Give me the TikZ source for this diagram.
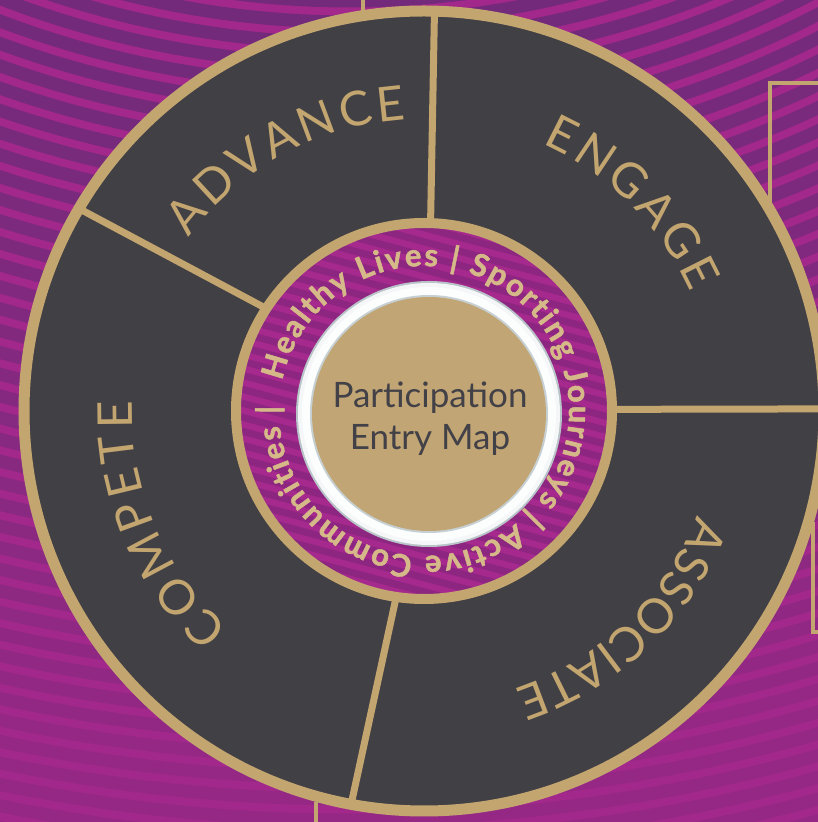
\documentclass[tikz,border=0pt]{standalone}
\usepackage{fontspec}
\setmainfont{Lato}
\newfontfamily\bandfamily{Lato}[BoldFeatures={FakeBold=1.6}]
\usetikzlibrary{decorations.text}

\definecolor{bgmag}{RGB}{162,40,139}
\definecolor{bgpur}{RGB}{116,42,122}
\definecolor{bgdeep}{RGB}{150,40,133}
\definecolor{wheeldark}{RGB}{65,64,69}
\definecolor{wheelgold}{RGB}{195,165,112}
\definecolor{hubbeige}{RGB}{194,165,116}
\definecolor{hubtext}{RGB}{66,65,71}
\definecolor{hubedge}{RGB}{184,196,200}
\definecolor{bandmag}{RGB}{166,41,141}
\definecolor{banddark}{RGB}{140,38,128}
\definecolor{bandtext}{RGB}{214,185,136}

\newcommand{\wordfont}{\fontsize{48}{56}\selectfont\color{wheelgold}}
\newcommand{\bandfont}{\fontsize{31}{36}\bandfamily\bfseries\color{bandtext}}

\tikzset{
  divider/.style={wheelgold, line width=7pt},
  edgeline/.style={wheelgold, line width=4pt},
  ringword/.style={decorate, decoration={text along path, text format delimiters={[}{]},
      text align={fit to path}, text={[\wordfont]#1}}}
}

\begin{document}
\begin{tikzpicture}[x=1pt,y=1pt]
            \useasboundingbox (0,0) rectangle (818,822);
            \coordinate (C) at (424,411);
            \coordinate (hub) at (429,408);
            \coordinate (ripple) at (350,1722);

            % Background with ripples
            \fill[bgmag] (0,0) rectangle (818,822);
            \begin{scope}
                \clip (0,0) rectangle (818,822);
                \foreach \r in {880,901,...,1800}{
                    \pgfmathtruncatemacro\p{max(0,min(100,100-(\r-1000)/7))}
                    \draw[bgpur!\p!bgdeep, line width=13pt] (ripple) circle (\r);
                }
            \end{scope}

            % Lines leaving the wheel
            \draw[edgeline] (363,822) -- (363,805);
            \draw[edgeline] (818,739) -- (770,739) -- (770,620);
            \draw[edgeline] (813,300) -- (813,190) -- (818,190);
            \draw[edgeline] (316,20) -- (316,0);

            % Wheel
            \fill[wheeldark] (C) circle (400);
            \draw[wheelgold, line width=11pt] (C) circle (400);

            % Dividers
            \coordinate (advEngIn) at ([shift={(88:188)}]C);
            \coordinate (advEngOut) at ([shift={(88.5:400)}]C);
            \coordinate (engAssIn) at ([shift={(0.5:188)}]C);
            \coordinate (engAssOut) at ([shift={(0.3:400)}]C);
            \coordinate (assCompIn) at ([shift={(-98.5:188)}]C);
            \coordinate (assCompOut) at ([shift={(-100.5:400)}]C);
            \coordinate (compAdvIn) at ([shift={(147:188)}]C);
            \coordinate (compAdvOut) at ([shift={(149.6:400)}]C);
            \draw[divider] (advEngIn) -- (advEngOut);
            \draw[divider] (engAssIn) -- (engAssOut);
            \draw[divider] (assCompIn) -- (assCompOut);
            \draw[divider] (compAdvIn) -- (compAdvOut);

            % Band
            \fill[bandmag] (C) circle (186);
            \begin{scope}
                \clip (C) circle (186);
                \foreach \s in {0,14,...,520}{
                    \draw[banddark, line width=7pt] (200,{780-\s}) -- (650,{660-\s});
                }
            \end{scope}
            \draw[wheelgold, line width=10pt] (C) circle (188);

            % Hub
            \fill[hubedge] (hub) circle (133);
            \fill[white!85!hubedge] (hub) circle (131);
            \fill[white!96!hubedge] (hub) circle (127);
            \fill[hubedge!80] (hub) circle (119);
            \fill[hubbeige] (hub) circle (117);

            % Band text
            \path[decorate, decoration={text along path, text format delimiters={[}{]},
                text align={fit to path},
                text={[\bandfont]Healthy Lives | Sporting Journeys | Active Communities |}}]
                ([shift={(168:145)}]C) arc[start angle=168, end angle=-182, radius=145];

            % Sector words
            \path[ringword=ADVANCE] ([shift={(143.5:292)}]C) arc[start angle=143.5, end angle=93.5, radius=292];
            \path[ringword=ENGAGE] ([shift={(66:292)}]C) arc[start angle=66, end angle=24, radius=292];
            \path[ringword=ASSOCIATE] ([shift={(-21:292)}]C) arc[start angle=-21, end angle=-72, radius=292];
            \path[ringword=COMPETE] ([shift={(228:292)}]C) arc[start angle=228, end angle=178, radius=292];

            \node[font=\fontsize{35}{42}\selectfont, text=hubtext, align=center] (hubtitle) at (430,403) {Participation\\Entry Map};
\end{tikzpicture}
\end{document}
